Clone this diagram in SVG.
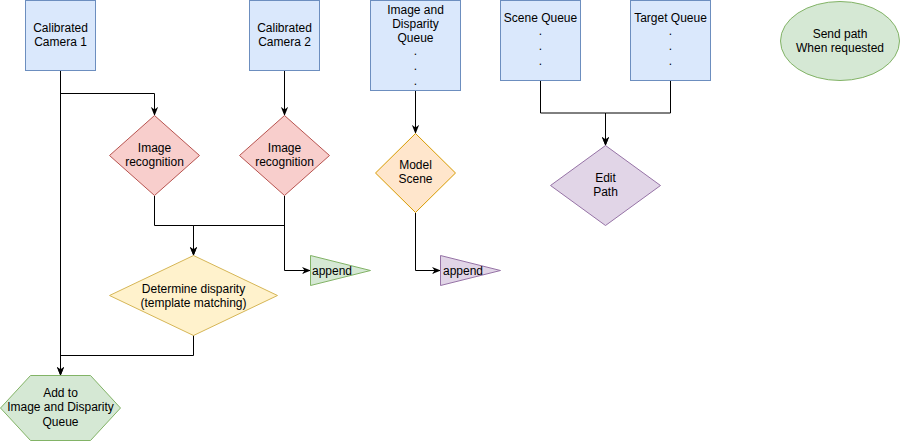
<svg xmlns="http://www.w3.org/2000/svg" width="901" height="441" viewBox="0 0 901 441">
<defs>
<style>
text{font-family:"Liberation Sans",Arial,Helvetica,sans-serif;font-size:12px;fill:#000;text-anchor:middle}
.blue{fill:#dae8fc;stroke:#6c8ebf}
.red{fill:#f8cecc;stroke:#b85450}
.yellow{fill:#fff2cc;stroke:#d6b656}
.orange{fill:#ffe6cc;stroke:#d79b00}
.green{fill:#d5e8d4;stroke:#82b366}
.purple{fill:#e1d5e7;stroke:#9673a6}
.edge{fill:none;stroke:#000;stroke-width:1}
.arr{marker-end:url(#arrow)}
</style>
<marker id="arrow" viewBox="0 0 10 10" refX="9" refY="5" markerWidth="9" markerHeight="9" orient="auto" markerUnits="userSpaceOnUse">
<path d="M0,1 L10,5 L0,9 L3,5 z" fill="#000"/>
</marker>
</defs>

<g id="connectors">
<path class="edge arr" d="M60.5,70 V93.5 H154.5 V115"/>
<path class="edge arr" d="M60.5,70 V375"/>
<path class="edge arr" d="M284.5,70 V115"/>
<path class="edge arr" d="M154.5,196 V225.5 H193.5 V255"/>
<path class="edge arr" d="M284.5,196 V225.5 H193.5 V255"/>
<path class="edge arr" d="M284.5,196 V270.5 H310"/>
<path class="edge arr" d="M193.5,335 V355.5 H60.5 V375"/>
<path class="edge arr" d="M415.5,90 V133"/>
<path class="edge arr" d="M415.5,213 V270.5 H440"/>
<path class="edge arr" d="M540.5,80 V113 H605.5 V145"/>
<path class="edge arr" d="M670.5,80 V113 H605.5 V145"/>
</g>

<g id="camera1">
<rect class="blue" x="25.5" y="0.5" width="70" height="70"/>
<text x="60.5" y="31.5">Calibrated</text>
<text x="60.5" y="46">Camera 1</text>
</g>

<g id="camera2">
<rect class="blue" x="249.5" y="0.5" width="70" height="70"/>
<text x="284.5" y="31.5">Calibrated</text>
<text x="284.5" y="46">Camera 2</text>
</g>

<g id="imgDispQueue">
<rect class="blue" x="370.5" y="0.5" width="90" height="90"/>
<text x="415.5" y="13.5">Image and</text>
<text x="415.5" y="27.5">Disparity</text>
<text x="415.5" y="42">Queue</text>
<text x="415.5" y="55">.</text>
<text x="415.5" y="70">.</text>
<text x="415.5" y="85">.</text>
</g>

<g id="sceneQueue">
<rect class="blue" x="500.5" y="0.5" width="80" height="80"/>
<text x="540.5" y="21.5">Scene Queue</text>
<text x="540.5" y="35">.</text>
<text x="540.5" y="50">.</text>
<text x="540.5" y="65">.</text>
</g>

<g id="targetQueue">
<rect class="blue" x="630.5" y="0.5" width="80" height="80"/>
<text x="670.5" y="21.5">Target Queue</text>
<text x="670.5" y="35">.</text>
<text x="670.5" y="50">.</text>
<text x="670.5" y="65">.</text>
</g>

<g id="sendPath">
<ellipse class="green" cx="840" cy="41" rx="59.5" ry="39.5"/>
<text x="840" y="37.5">Send path</text>
<text x="840" y="51.5">When requested</text>
</g>

<g id="imgRec1">
<polygon class="red" points="154.5,115.5 199.5,155.5 154.5,195.5 109.5,155.5"/>
<text x="154.5" y="152">Image</text>
<text x="154.5" y="166">recognition</text>
</g>

<g id="imgRec2">
<polygon class="red" points="284.5,115.5 329.5,155.5 284.5,195.5 239.5,155.5"/>
<text x="284.5" y="152">Image</text>
<text x="284.5" y="166">recognition</text>
</g>

<g id="modelScene">
<polygon class="orange" points="415.5,133.5 455.5,173 415.5,212.5 375.5,173"/>
<text x="415.5" y="169">Model</text>
<text x="415.5" y="183">Scene</text>
</g>

<g id="editPath">
<polygon class="purple" points="605.5,145.5 660.5,185.5 605.5,225.5 550.5,185.5"/>
<text x="605.5" y="182">Edit</text>
<text x="605.5" y="196">Path</text>
</g>

<g id="disparity">
<polygon class="yellow" points="193.5,255.5 277.5,295.5 193.5,335.5 109.5,295.5"/>
<text x="193.5" y="292.5">Determine disparity</text>
<text x="193.5" y="306.5">(template matching)</text>
</g>

<g id="appendGreen">
<polygon class="green" points="310.5,255.5 370.5,270.5 310.5,285.5"/>
<text x="312" y="274.5" style="text-anchor:start">append</text>
</g>

<g id="appendPurple">
<polygon class="purple" points="440.5,255.5 500.5,270.5 440.5,285.5"/>
<text x="443" y="274.5" style="text-anchor:start">append</text>
</g>

<g id="addQueue">
<polygon class="green" points="0.5,408 30.5,375.5 90.5,375.5 120.5,408 90.5,440.5 30.5,440.5"/>
<text x="60.5" y="397">Add to</text>
<text x="60.5" y="411">Image and Disparity</text>
<text x="60.5" y="425.5">Queue</text>
</g>
</svg>
